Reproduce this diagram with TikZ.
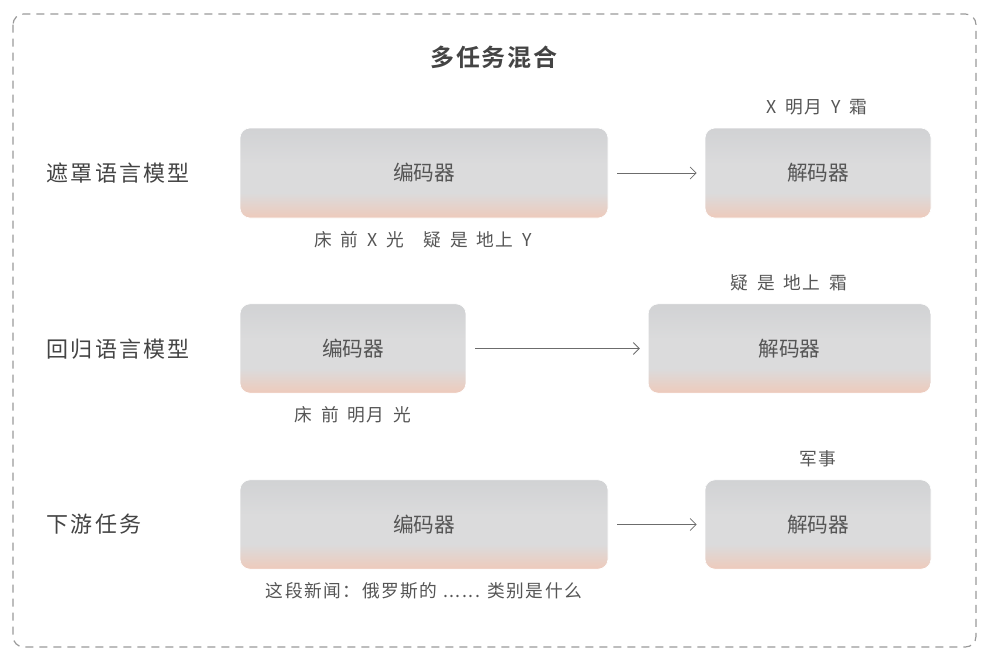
\documentclass[tikz,border=0pt]{standalone}
\usepackage{fontspec}
\setmainfont{Noto Sans CJK SC}[BoldFont={Noto Sans CJK SC Bold}]
\newfontfamily\rowfont{Noto Sans CJK SC}[LetterSpace=10]
\newfontfamily\titlefont{Noto Sans CJK SC Bold}[LetterSpace=8]
\newfontfamily\tokfont{Noto Sans CJK SC}[LetterSpace=8.5]
\newfontfamily\widetokfont{Noto Sans CJK SC}[LetterSpace=9, WordSpace=1.55]
\usetikzlibrary{arrows.meta}
\definecolor{topgray}{HTML}{D1D2D4}
\definecolor{midgray}{HTML}{DBDBDC}
\definecolor{peach}{HTML}{EECABB}
\definecolor{txt}{HTML}{555555}
\definecolor{lbl}{HTML}{444444}
\pgfdeclareverticalshading{boxshade}{100bp}{color(0bp)=(peach); color(25bp)=(peach); color(39bp)=(midgray); color(55bp)=(midgray); color(75bp)=(topgray); color(100bp)=(topgray)}
\tikzset{
  blk/.style={rectangle, shading=boxshade, rounded corners=7.5pt, draw=white, line width=0.5pt, inner sep=0pt,
     text=txt, font=\fontsize{15.5pt}{18pt}\selectfont},
  rowlbl/.style={anchor=west, text=lbl, font=\rowfont\fontsize{16.5pt}{20pt}\selectfont},
  tok/.style={text=txt, font=\tokfont\fontsize{13.3pt}{16pt}\selectfont},
  widetok/.style={text=txt, font=\widetokfont\fontsize{13.3pt}{16pt}\selectfont},
  conn/.style={draw=gray!85!black, line width=0.6pt, -{Straight Barb[length=4.5pt,width=9pt]}},
}
\begin{document}
\begin{tikzpicture}[x=0.75pt,y=-0.75pt]
\useasboundingbox (0,0) rectangle (992,667);
\draw[draw=gray!80, line width=0.9pt, dash pattern=on 6pt off 4.5pt, rounded corners=8pt] (13,14) rectangle (976,647);
\node[font=\titlefont\fontsize{18pt}{22pt}\selectfont, text=lbl] (title) at (494,57) {多任务混合};
% row labels
\node[rowlbl] (r1) at (42,173) {遮罩语言模型};
\node[rowlbl] (r2) at (42,349) {回归语言模型};
\node[rowlbl] (r3) at (42,524) {下游任务};
% row 1
\node[blk, minimum width=276pt, minimum height=67.5pt] (e1) at (424,173) {编码器};
\node[blk, minimum width=169.5pt, minimum height=67.5pt] (d1) at (818,173) {解码器};
\path (e1.east) ++(9,0) coordinate (a1) (d1.west) ++(-8,0) coordinate (b1);
\draw[conn] (a1) -- (b1);
\node[widetok] (i1) at (423,240) {床 前 X 光 \hspace{2pt} 疑 是 地上 Y};
\node[widetok] (o1) at (817,107) {X 明月 Y 霜};
% row 2
\node[blk, minimum width=169.5pt, minimum height=67pt] (e2) at (353,348.5) {编码器};
\node[blk, minimum width=212pt, minimum height=67pt] (d2) at (789.5,348.5) {解码器};
\path (e2.east) ++(9,0) coordinate (a2) (d2.west) ++(-8,0) coordinate (b2);
\draw[conn] (a2) -- (b2);
\node[widetok] (i2) at (353,415) {床 前 明月 光};
\node[widetok] (o2) at (789,283) {疑 是 地上 霜};
% row 3
\node[blk, minimum width=276pt, minimum height=67pt] (e3) at (424,524.5) {编码器};
\node[blk, minimum width=169.5pt, minimum height=67pt] (d3) at (818,524.5) {解码器};
\path (e3.east) ++(9,0) coordinate (a3) (d3.west) ++(-8,0) coordinate (b3);
\draw[conn] (a3) -- (b3);
\node[tok] (i3) at (424,591) {这段新闻：俄罗斯的 ...... 类别是什么};
\node[tok] (o3) at (818,459) {军事};
\end{tikzpicture}
\end{document}
